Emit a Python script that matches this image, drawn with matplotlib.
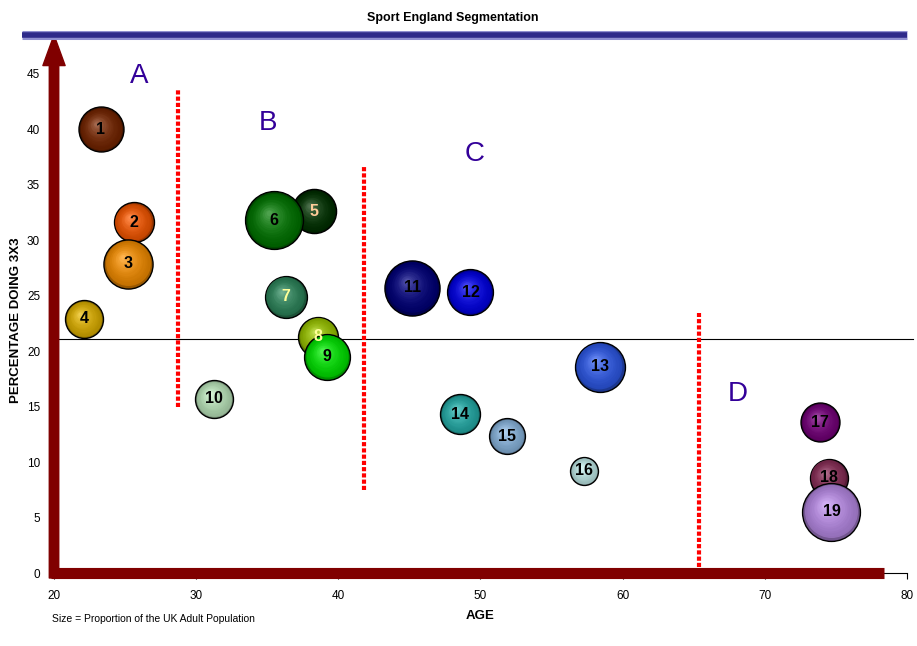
import numpy as np
import matplotlib
matplotlib.use("Agg")
import matplotlib.pyplot as plt
from matplotlib.lines import Line2D
from matplotlib.colors import to_rgb

plt.rcParams["font.family"] = ["Liberation Sans", "DejaVu Sans"]

# segment data
segments = [str(i) for i in range(1, 20)]
age = [23.3, 25.6, 25.2, 22.1, 38.3, 35.5, 36.3, 38.6, 39.2, 31.25,
       45.2, 49.3, 58.4, 48.55, 51.9, 57.3, 73.9, 74.5, 74.7]
pct_3x3 = [40.0, 31.6, 27.9, 22.9, 32.6, 31.8, 24.9, 21.3, 19.5, 15.7,
           25.7, 25.3, 18.6, 14.3, 12.35, 9.2, 13.6, 8.6, 5.5]
population = [5.2, 4.1, 6.2, 3.7, 5.0, 8.6, 4.5, 4.1, 5.4, 3.7,
              7.8, 5.4, 6.4, 4.1, 3.3, 2.0, 3.9, 3.7, 8.6]
colors = ["#7a2600", "#ff5a00", "#ff9300", "#e8b800", "#003300", "#007a00",
          "#2e8a5e", "#a0cc00", "#00ee00", "#c4f0c4", "#000080", "#0000f0",
          "#2f5cf0", "#26b5b0", "#8fbde8", "#c8f4f2", "#7a0080", "#8e2f5a",
          "#c090f0"]
label_colors = ["black"] * 19
label_colors[4] = "#ffcc99"
label_colors[6] = "#ffff99"
label_colors[7] = "#ffff99"

# group dividers and labels
div_x = [28.7, 41.8, 65.4]
div_y0 = [15.0, 7.5, 0.5]
div_y1 = [43.5, 36.6, 23.4]
groups = ["A", "B", "C", "D"]
group_x = [26.0, 35.05, 49.6, 68.1]
group_y = [44.8, 40.6, 37.8, 16.1]
avg_line = 21.1

fig = plt.figure(figsize=(9.17, 6.46), dpi=100)
ax = fig.add_axes([0.0589, 0.113, 0.930, 0.8328])
ax.set_xlim(20, 80)
ax.set_ylim(0, 48.5)

for s in ["top", "right", "left"]:
    ax.spines[s].set_visible(False)
ax.spines["bottom"].set_linewidth(0.8)
ax.set_xticks(range(20, 81, 10))
ax.set_yticks(range(0, 46, 5))
ax.tick_params(axis="x", direction="out", length=4, labelsize=8.5, pad=8)
ax.tick_params(axis="y", length=0, labelsize=8.5, pad=10)

# average line
ax.plot([20, 80.4], [avg_line, avg_line], color="black", lw=0.8, clip_on=False, zorder=1)

# dividers
for x, y0, y1 in zip(div_x, div_y0, div_y1):
    ax.plot([x, x], [y0, y1], color="#ff0000", lw=3, ls=(0, (1, 0.5)), zorder=2)

for g, x, y in zip(groups, group_x, group_y):
    ax.text(x, y, g, color="#330099", fontsize=20, ha="center", va="center", zorder=3)

# bubbles with simple shading
k = 201.9
xpx = 853 / 60.0
ypx = 538 / 48.5
for i in range(len(segments)):
    base = np.array(to_rgb(colors[i]))
    s = k * population[i]
    r_px = np.sqrt(s) / 1.44
    dark = base * 0.6
    ax.scatter(age[i], pct_3x3[i], s=s, color=dark, edgecolor="black",
               linewidth=1.0, zorder=4 + i * 0.05)
    n = 14
    for j in range(1, n + 1):
        f = j / n
        c = base * (0.75 + 0.25 * f) + (1 - base) * 0.3 * f ** 2
        c = np.clip(c, 0, 1)
        size = s * (1 - 0.9 * f) ** 2 * 0.96
        dx = -0.2 * r_px * f / xpx
        dy = 0.25 * r_px * f / ypx
        ax.scatter(age[i] + dx, pct_3x3[i] + dy, s=size, color=c,
                   linewidth=0, zorder=4 + i * 0.05 + 0.001 * j)
    ax.text(age[i], pct_3x3[i], segments[i], color=label_colors[i],
            fontsize=11.5, fontweight="bold", ha="center", va="center",
            zorder=6)

# axis arrows
ax.annotate("", xy=(20, 48.5), xytext=(20, -0.45), xycoords="data",
            arrowprops=dict(arrowstyle="simple,head_width=1.6,head_length=2.2,tail_width=0.68",
                            color="#800000", shrinkA=0, shrinkB=0, mutation_scale=10),
            annotation_clip=False, zorder=10)
ax.plot([19.8, 78.4], [0, 0], color="#800000", lw=8, solid_capstyle="butt",
        clip_on=False, zorder=10)

ax.set_xlabel("AGE", fontsize=9.5, fontweight="bold", labelpad=6)
ax.set_ylabel("PERCENTAGE DOING 3X3", fontsize=9.5, fontweight="bold")
ax.yaxis.set_label_coords(-0.038, 0.47)

# title bar
fig.add_artist(Line2D([22 / 917, 907 / 917], [1 - 35 / 646] * 2, color="#8f8fd0", lw=6.5,
                      solid_capstyle="butt"))
fig.add_artist(Line2D([22 / 917, 907 / 917], [1 - 35 / 646] * 2, color="#2e2a8a", lw=4,
                      solid_capstyle="butt"))
fig.text(453 / 917, 1 - 18 / 646, "Sport England Segmentation", fontsize=9,
         fontweight="bold", ha="center", va="center")
fig.text(52 / 917, 1 - 619 / 646, "Size = Proportion of the UK Adult Population",
         fontsize=7.5, ha="left", va="center")

fig.savefig("out.png", dpi=100)
